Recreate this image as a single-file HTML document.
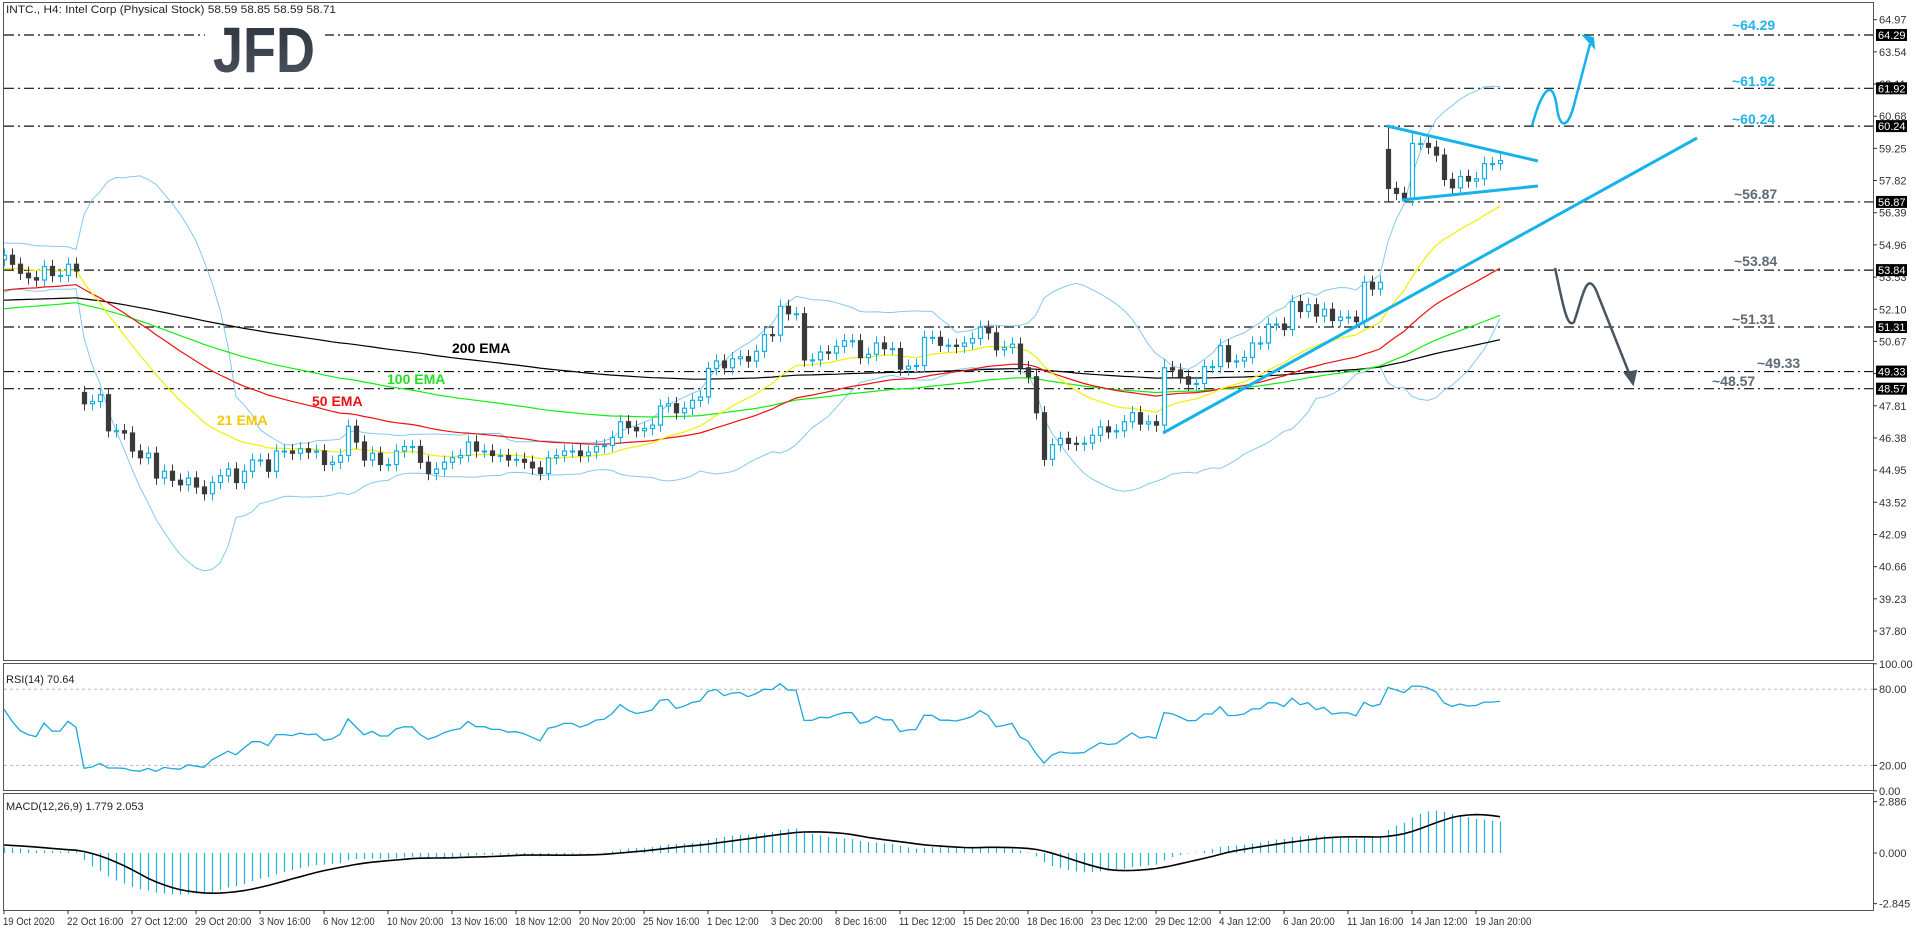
<!DOCTYPE html>
<html><head><meta charset="utf-8">
<style>
html,body{margin:0;padding:0;background:#fff;}
svg{display:block;font-family:"Liberation Sans",sans-serif;}
</style></head>
<body>
<svg id="chart" width="1916" height="928" viewBox="0 0 1916 928" xmlns="http://www.w3.org/2000/svg">
<defs>
<clipPath id="mainClip"><rect x="4" y="3" width="1869" height="657"/></clipPath>
<linearGradient id="logoGrad" x1="0" y1="0" x2="0" y2="1"><stop offset="0" stop-color="#2b323c"/><stop offset="1" stop-color="#4c5560"/></linearGradient>
</defs>
<rect x="0" y="0" width="1916" height="928" fill="#fff"/>
<g>
<rect x="3.5" y="2.5" width="1870" height="658" fill="none" stroke="#555" stroke-width="1"/>
</g>
<g>
<rect x="3.5" y="663.5" width="1870" height="127" fill="none" stroke="#555" stroke-width="1"/>
</g>
<g>
<rect x="3.5" y="793.5" width="1870" height="117" fill="none" stroke="#555" stroke-width="1"/>
</g>
<g id="levels"></g>
<g>
<rect x="205" y="22" width="120" height="54" fill="#fff"/>
<text x="213" y="72" font-size="64" font-weight="bold" fill="url(#logoGrad)" textLength="102" lengthAdjust="spacingAndGlyphs">JFD</text>
</g>
<g id="mainG" clip-path="url(#mainClip)"></g>
<g id="rsiG"></g>
<g id="macdG"></g>
<g id="axisG"></g>
<text x="6" y="13" font-size="11" fill="#222" textLength="330" lengthAdjust="spacingAndGlyphs">INTC., H4:  Intel Corp (Physical Stock)  58.59 58.85 58.59 58.71</text>
<text x="6" y="683" font-size="11" fill="#222">RSI(14) 70.64</text>
<text x="6" y="810" font-size="11" fill="#222">MACD(12,26,9) 1.779 2.053</text>
<g>
<text x="452" y="353" font-size="14" font-weight="bold" fill="#000">200 EMA</text>
<text x="387" y="384" font-size="14" font-weight="bold" fill="#22dd22">100 EMA</text>
<text x="312" y="406" font-size="14" font-weight="bold" fill="#ee1111">50 EMA</text>
<text x="217" y="425" font-size="14" font-weight="bold" fill="#f5c800">21 EMA</text>
</g>
<g>
<line x1="1163" y1="433" x2="1697" y2="138" stroke="#16b2ec" stroke-width="3"/>
<line x1="1387" y1="126" x2="1538" y2="161" stroke="#16b2ec" stroke-width="3"/>
<line x1="1402" y1="200" x2="1538" y2="186" stroke="#16b2ec" stroke-width="3"/>
<path d="M1532,126 C1540,96 1552,72 1557,108 C1560,130 1568,128 1574,105 L1590,44" fill="none" stroke="#16b2ec" stroke-width="2.5"/>
<path d="M1584,36 L1593,38 L1594,47 Z" fill="#16b2ec" stroke="#16b2ec" stroke-width="2"/>
<path d="M1555,268 C1562,300 1567,330 1574,322 C1582,300 1586,270 1596,290 L1631,378" fill="none" stroke="#4a5560" stroke-width="2.5"/>
<path d="M1625,373 L1633,384 L1636,371 Z" fill="#4a5560" stroke="#4a5560" stroke-width="2"/>
</g>
<g id="levelLabels"></g>
</svg>
<script>
const closes=[54.5,54.1,53.7,53.5,53.4,54.0,53.6,53.6,54.1,53.8,
47.9,48.0,48.3,46.7,46.7,46.6,45.8,45.5,45.7,44.6,44.9,44.5,
44.3,44.6,44.2,43.9,44.4,44.7,
45.0,44.4,44.9,45.4,45.4,44.9,45.8,45.8,45.7,45.9,45.75,45.8,45.2,45.3,45.6,46.9,46.2,45.4,45.7,45.2,45.2,45.8,46.0,46.0,45.3,44.8,45.0,45.3,45.5,45.6,46.2,45.8,45.8,45.6,45.6,
45.4,45.43,45.3,45.05,44.8,45.5,45.6,45.8,45.8,45.6,45.75,46.0,46.05,46.4,47.1,46.85,46.7,46.8,46.95,
47.8,47.9,47.5,47.7,48.05,48.2,
49.47,49.8,49.5,49.9,49.99,49.8,50.23,50.97,50.95,52.23,51.9,51.9,
49.85,49.85,50.2,50.15,50.45,50.7,50.7,49.95,50.1,50.6,50.35,50.35,
49.44,49.57,49.6,50.85,50.85,50.5,50.5,50.45,50.6,50.8,51.3,51.05,50.3,50.4,50.55,49.5,49.1,47.5,45.43,46.08,
46.36,46.14,46.1,46.15,46.5,46.87,46.65,46.7,47.1,47.5,47.0,47.1,46.95,49.5,49.4,49.1,48.77,48.8,49.55,49.55,50.48,49.77,49.8,49.96,50.6,50.6,51.44,51.44,51.2,52.44,52.0,52.3,51.8,52.1,51.6,51.75,51.75,51.55,53.3,53.0,53.3,
57.47,57.25,57.0,59.47,59.47,59.3,58.95,57.87,57.5,58.0,57.8,57.9,58.57,58.57,58.71];
const priorCloses=[53.2,53.5,54.4,54.6,53.8,53.1,53.6,54.3,54.7,54.2,53.4,53.0,53.7,54.5,54.8,54.1,53.5,53.9,54.3];
const openOverrides={10:48.4,173:59.2};
const highOverrides={173:60.24,176:60.0,145:49.9};
const lowOverrides={173:56.87,175:56.87};
const emaSeeds={21:53.84,50:52.88,100:52.07,200:52.48};
const levels=[64.29,61.92,60.24,56.87,53.84,51.31,49.33,48.57];
const levelColors=["#1fb3e5","#1fb3e5","#1fb3e5","#5f6a75","#5f6a75","#5f6a75","#5f6a75","#5f6a75"];
const levelLabelX=[1732,1732,1732,1734,1734,1732,1757,1712];
const levelLabelY=[30,86,124,199,266,324,368,386];
const priceTicks=[64.97,63.54,62.11,60.68,59.25,57.82,56.39,54.96,53.53,52.10,50.67,49.24,47.81,46.38,44.95,43.52,42.09,40.66,39.23,37.80];
const timeLabels=["19 Oct 2020","22 Oct 16:00","27 Oct 12:00","29 Oct 20:00","3 Nov 16:00","6 Nov 12:00","10 Nov 20:00","13 Nov 16:00","18 Nov 12:00","20 Nov 20:00","25 Nov 16:00","1 Dec 12:00","3 Dec 20:00","8 Dec 16:00","11 Dec 12:00","15 Dec 20:00","18 Dec 16:00","23 Dec 12:00","29 Dec 12:00","4 Jan 12:00","6 Jan 20:00","11 Jan 16:00","14 Jan 12:00","19 Jan 20:00"];
const rsiTicks=[100,80,20,0];
const macdTicks=[2.886,0,-2.845];
const rsiSeed={gain:0.11,loss:0.07};
const macdSeeds={e12:53.95,e26:53.65};
const priorMacd=[0.5,0.5,0.48,0.47,0.46,0.45,0.44,0.43];

const NS="http://www.w3.org/2000/svg";
function mk(tag,attrs,parent){const e=document.createElementNS(NS,tag);for(const k in attrs)e.setAttribute(k,attrs[k]);parent.appendChild(e);return e;}
const xOf=i=>4+i*8;
const yP=p=>631-(p-37.8)*22.5;
const rsiY=v=>790.8-1.27*v;
const macdY=v=>853-17.8*v;
const mainG=document.getElementById('mainG');
const rsiG=document.getElementById('rsiG');
const macdG=document.getElementById('macdG');
const axisG=document.getElementById('axisG');
const levG=document.getElementById('levels');
const levLab=document.getElementById('levelLabels');

levels.forEach((lv,k)=>{
  const l=mk('line',{x1:4,x2:1873,y1:yP(lv),y2:yP(lv),stroke:'#111','stroke-width':1.2,'stroke-dasharray':'10 4 2 4'},levG);
  
  
  const t=mk('text',{x:levelLabelX[k],y:levelLabelY[k],'font-size':14,'font-weight':'bold',fill:levelColors[k]},levLab);
  t.textContent='~'+lv.toFixed(2);
  
  
});

function ema(period,seed){const a=2/(period+1);let e=seed;return closes.map(c=>(e=e+a*(c-e)));}
function poly(vals,yf,color,w,parent,name){
  const pts=vals.map((v,i)=>xOf(i)+','+yf(v).toFixed(1)).join(' ');
  const p=mk('polyline',{points:pts,fill:'none',stroke:color,'stroke-width':w},parent);
  
  
}
const all=priorCloses.concat(closes);
const bbU=[],bbL=[];
closes.forEach((c,i)=>{const w=all.slice(i,i+20);const m=w.reduce((a,b)=>a+b,0)/20;const sd=Math.sqrt(w.reduce((a,b)=>a+(b-m)*(b-m),0)/20);bbU.push(m+2*sd);bbL.push(m-2*sd);});
poly(bbU,yP,'#86c8f2',1,mainG,'bollinger-upper');
poly(bbL,yP,'#86c8f2',1,mainG,'bollinger-lower');
poly(ema(200,emaSeeds[200]),yP,'#000',1.2,mainG,'ema-200');
poly(ema(100,emaSeeds[100]),yP,'#11ee11',1.2,mainG,'ema-100');
poly(ema(50,emaSeeds[50]),yP,'#ee1111',1.2,mainG,'ema-50');
poly(ema(21,emaSeeds[21]),yP,'#f2f000',1.2,mainG,'ema-21');

closes.forEach((c,i)=>{
  const o=(i in openOverrides)?openOverrides[i]:(i===0?priorCloses[priorCloses.length-1]:closes[i-1]);
  const hi=(i in highOverrides)?highOverrides[i]:Math.max(o,c)+0.3;
  const lo=(i in lowOverrides)?lowOverrides[i]:Math.min(o,c)-0.3;
  const bull=c>=o;const col=bull?'#14aee0':'#3a3a3a';
  const x=xOf(i);
  const g=mk('g',{},mainG);
  
  
  mk('line',{x1:x+0.5,x2:x+0.5,y1:yP(hi),y2:yP(lo),stroke:col,'stroke-width':1},g);
  const top=yP(Math.max(o,c)),h=Math.max(1,yP(Math.min(o,c))-top);
  mk('rect',{x:x-1.5,y:top,width:4,height:h,fill:bull?'#fff':'#3a3a3a',stroke:col,'stroke-width':1.2},g);
});

[80,20].forEach(v=>{const l=mk('line',{x1:4,x2:1873,y1:rsiY(v),y2:rsiY(v),stroke:'#bbb','stroke-dasharray':'3 3'},rsiG);
  
  });
let ag=rsiSeed.gain,al=rsiSeed.loss;const rsi=[];
closes.forEach((c,i)=>{const prev=i===0?priorCloses[priorCloses.length-1]:closes[i-1];const d=c-prev;ag=(ag*13+Math.max(d,0))/14;al=(al*13+Math.max(-d,0))/14;rsi.push(100-100/(1+ag/al));});
poly(rsi,rsiY,'#1aa8dc',1.3,rsiG,'rsi-line');

let e12=macdSeeds.e12,e26=macdSeeds.e26;const macd=[],sig=[];const hist=priorMacd.slice();
closes.forEach(c=>{e12+= (2/13)*(c-e12);e26+=(2/27)*(c-e26);const m=e12-e26;macd.push(m);hist.push(m);const w=hist.slice(-9);sig.push(w.reduce((a,b)=>a+b,0)/9);});
macd.forEach((m,i)=>{const b=mk('line',{x1:xOf(i)+0.5,x2:xOf(i)+0.5,y1:macdY(0),y2:macdY(m),stroke:'#1ab0e0','stroke-width':1.2},macdG);
  
  });
poly(sig,macdY,'#000',1.6,macdG,'macd-signal-line');

priceTicks.forEach(p=>{const y=yP(p);mk('line',{x1:1873,x2:1877,y1:y,y2:y,stroke:'#333'},axisG);
  const t=mk('text',{x:1879,y:y+4,'font-size':11,fill:'#333'},axisG);t.textContent=p.toFixed(2);
  
  });
levels.forEach(lv=>{const y=yP(lv);
  const r=mk('rect',{x:1876,y:y-6,width:31,height:12,fill:'#000'},axisG);
  
  
  const t=mk('text',{x:1878,y:y+4,'font-size':11,fill:'#fff'},axisG);t.textContent=lv.toFixed(2);
  
  });
rsiTicks.forEach(v=>{const y=rsiY(v);mk('line',{x1:1873,x2:1877,y1:y,y2:y,stroke:'#333'},axisG);
  const t=mk('text',{x:1879,y:y+4,'font-size':11,fill:'#333'},axisG);t.textContent=v.toFixed(2);
  
  });
macdTicks.forEach(v=>{const y=macdY(v);mk('line',{x1:1873,x2:1877,y1:y,y2:y,stroke:'#333'},axisG);
  const t=mk('text',{x:1879,y:y+4,'font-size':11,fill:'#333'},axisG);t.textContent=v.toFixed(3);
  
  });
timeLabels.forEach((s,k)=>{const x=xOf(k*8);mk('line',{x1:x,x2:x,y1:910,y2:914,stroke:'#333'},axisG);
  const t=mk('text',{x:x-1,y:925,'font-size':11,fill:'#333',textLength:(s.length*4.7).toFixed(1),lengthAdjust:'spacingAndGlyphs'},axisG);t.textContent=s;
  
  });
</script>
</body></html>
